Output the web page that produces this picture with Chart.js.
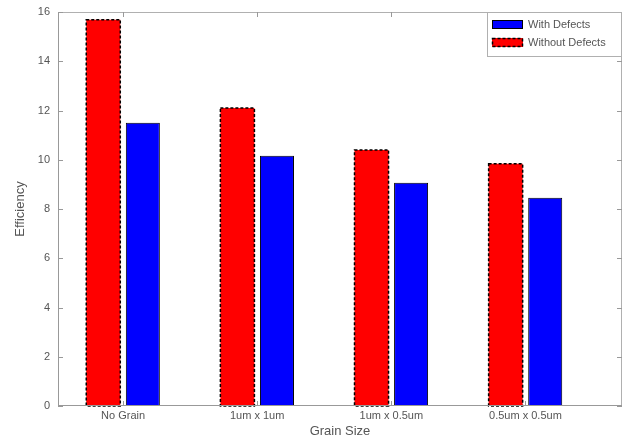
<!DOCTYPE html>
<html>
<head>
<meta charset="utf-8">
<script src="https://cdn.jsdelivr.net/npm/chart.js@4/dist/chart.umd.min.js"></script>
<style>
  html, body { margin: 0; padding: 0; background: #fff; }
  #wrap { width: 627px; height: 441px; }
</style>
</head>
<body>
<div id="wrap"><canvas id="c" width="627" height="441"></canvas></div>
<script>
const categories = ["No Grain", "1um x 1um", "1um x 0.5um", "0.5um x 0.5um"];
const withoutDefects = [15.69, 12.1, 10.4, 9.84];
const withDefects = [11.5, 10.16, 9.07, 8.46];
const yTicks = [0, 2, 4, 6, 8, 10, 12, 14, 16];
const seriesNames = ["With Defects", "Without Defects"];

const FONT = "'Liberation Sans', Arial, sans-serif";
const TXT = "#555";

const toPts = arr => arr.map((v, i) => ({ x: i + 1, y: v }));

const framePlugin = {
  id: 'frame',
  afterDatasetsDraw(chart) {
    const ctx = chart.ctx;
    const a = chart.chartArea;
    const xs = chart.scales.x, ys = chart.scales.y;
    const meta = chart.getDatasetMeta(0);
    ctx.save();
    ctx.strokeStyle = '#000';
    ctx.lineWidth = 1.5;
    ctx.setLineDash([3, 2]);
    meta.data.forEach(el => {
      const p = el.getProps(['x', 'y', 'base', 'width'], true);
      ctx.strokeRect(p.x - p.width / 2, p.y, p.width, p.base - p.y);
    });
    ctx.restore();
    ctx.save();
    ctx.strokeStyle = '#b0b0b0';
    ctx.lineWidth = 1;
    ctx.strokeRect(a.left + 0.5, a.top + 0.5, a.right - a.left - 1, a.bottom - a.top - 1);
    ctx.strokeStyle = '#999';
    ctx.beginPath();
    ctx.moveTo(a.left, a.bottom - 0.5); ctx.lineTo(a.right, a.bottom - 0.5);
    ctx.moveTo(a.left + 0.5, a.top); ctx.lineTo(a.left + 0.5, a.bottom);
    ctx.stroke();
    ctx.beginPath();
    yTicks.forEach(v => {
      const py = Math.round(ys.getPixelForValue(v)) + 0.5;
      ctx.moveTo(a.left, py); ctx.lineTo(a.left + 5, py);
      ctx.moveTo(a.right, py); ctx.lineTo(a.right - 5, py);
    });
    categories.forEach((c, i) => {
      const px = Math.round(xs.getPixelForValue(i + 1)) + 0.5;
      ctx.moveTo(px, a.bottom); ctx.lineTo(px, a.bottom - 5);
      ctx.moveTo(px, a.top); ctx.lineTo(px, a.top + 5);
    });
    ctx.stroke();
    ctx.restore();
    ctx.save();
    const lx = 487, ly = a.top, lw = a.right - lx, lh = 45;
    ctx.fillStyle = '#fff';
    ctx.fillRect(lx, ly, lw, lh);
    ctx.strokeStyle = '#b0b0b0';
    ctx.lineWidth = 1;
    ctx.strokeRect(lx + 0.5, ly + 0.5, lw - 1, lh - 1);
    ctx.fillStyle = '#0000ff';
    ctx.fillRect(492, ly + 8, 31, 9);
    ctx.strokeStyle = '#000';
    ctx.strokeRect(492.5, ly + 8.5, 30, 8);
    ctx.fillStyle = '#ff0000';
    ctx.fillRect(492, ly + 26, 31, 9);
    ctx.setLineDash([3, 2]);
    ctx.lineWidth = 1.5;
    ctx.strokeRect(492.5, ly + 26.5, 30, 8);
    ctx.setLineDash([]);
    ctx.fillStyle = TXT;
    ctx.font = "11px " + FONT;
    ctx.textBaseline = 'middle';
    ctx.fillText(seriesNames[0], 528, ly + 13);
    ctx.fillText(seriesNames[1], 528, ly + 31);
    ctx.restore();
  }
};

new Chart(document.getElementById('c'), {
  type: 'bar',
  data: {
    datasets: [
      {
        label: seriesNames[1],
        data: toPts(withoutDefects),
        backgroundColor: '#ff0000',
        borderWidth: 0
      },
      {
        label: seriesNames[0],
        data: toPts(withDefects),
        backgroundColor: '#0000ff',
        borderColor: '#000',
        borderWidth: 1,
        borderSkipped: false
      }
    ]
  },
  options: {
    responsive: false,
    animation: false,
    devicePixelRatio: 1,
    categoryPercentage: 0.59,
    barPercentage: 0.86,
    layout: { padding: { left: 0, right: 5, top: 12, bottom: 0 } },
    plugins: { legend: { display: false }, tooltip: { enabled: false } },
    scales: {
      x: {
        type: 'linear',
        offset: false,
        min: 0.515,
        max: 4.72,
        afterBuildTicks(s) { s.ticks = categories.map((c, i) => ({ value: i + 1 })); },
        afterFit(s) { s.height = 35; s.paddingLeft = 0; s.paddingRight = 0; },
        grid: { display: false, drawTicks: false, offset: false },
        border: { display: false },
        ticks: {
          callback: (v) => categories[v - 1] || '',
          font: { family: FONT, size: 11 },
          color: TXT,
          padding: 3,
          maxRotation: 0,
          autoSkip: false
        },
        title: {
          display: true,
          text: 'Grain Size',
          font: { family: FONT, size: 13 },
          color: TXT,
          padding: { top: 0, bottom: 2 }
        }
      },
      y: {
        min: 0,
        max: 16,
        afterBuildTicks(s) { s.ticks = yTicks.map(v => ({ value: v })); },
        afterFit(s) { s.width = 58; s.paddingTop = 0; s.paddingBottom = 0; },
        grid: { display: false, drawTicks: false },
        border: { display: false },
        ticks: {
          font: { family: FONT, size: 11 },
          color: TXT,
          padding: 8
        },
        title: {
          display: true,
          text: 'Efficiency',
          font: { family: FONT, size: 13 },
          color: TXT,
          padding: { top: 13, bottom: 0 }
        }
      }
    }
  },
  plugins: [framePlugin]
});
</script>
</body>
</html>
